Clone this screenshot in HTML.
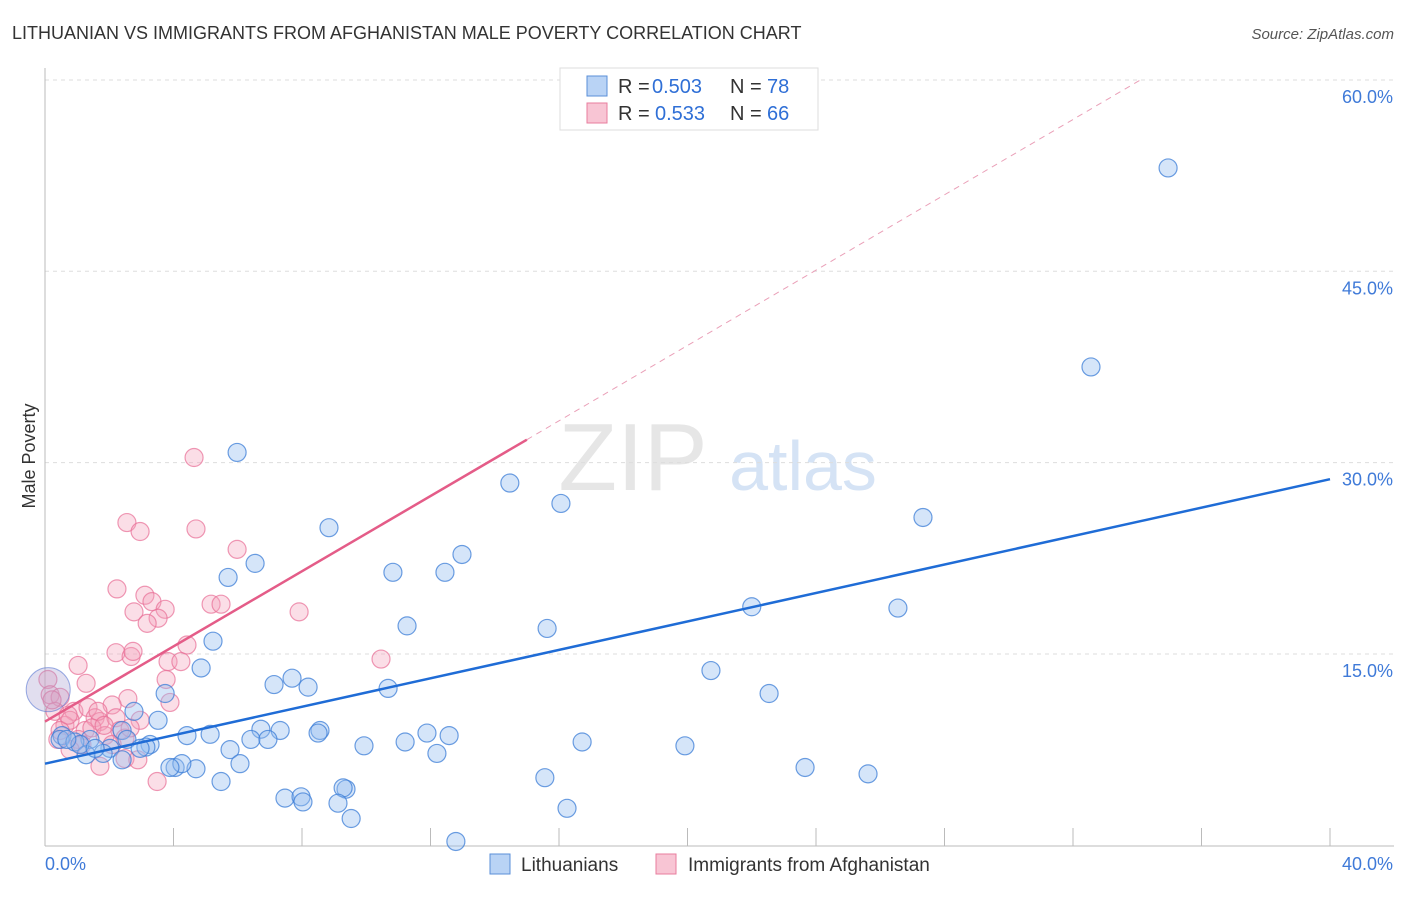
<!DOCTYPE html>
<html><head><meta charset="utf-8"><style>
body{margin:0;background:#fff;font-family:"Liberation Sans",sans-serif}
svg text{font-family:"Liberation Sans",sans-serif}
</style></head><body>
<svg id="c" width="1406" height="892">
<text x="12" y="39" font-size="18" fill="#333">LITHUANIAN VS IMMIGRANTS FROM AFGHANISTAN MALE POVERTY CORRELATION CHART</text>
<text x="1394" y="39" font-size="15" fill="#555" font-style="italic" text-anchor="end">Source: ZipAtlas.com</text>
<text x="35" y="456" font-size="18" fill="#333" transform="rotate(-90 35 456)" text-anchor="middle">Male Poverty</text>
<g><text x="633" y="490" font-size="96" font-family="Liberation Serif" fill="#e6e6e6" text-anchor="middle">ZIP</text><text x="803" y="490" font-size="70" fill="#d5e3f5" text-anchor="middle">atlas</text></g>
<g id="grid"></g><g id="pts"></g><g id="lines"></g>
<g>
<rect x="560" y="68" width="258" height="62" fill="#fff" stroke="#ddd"/>
<rect x="587" y="76" width="20" height="20" fill="#b9d3f5" stroke="#5a8fd8"/>
<rect x="587" y="103" width="20" height="20" fill="#f8c5d4" stroke="#e87d9e"/>
<text x="618" y="93" font-size="20" fill="#333">R =</text><text x="652" y="93" font-size="20" fill="#2f6fd6">0.503</text>
<text x="730" y="93" font-size="20" fill="#333">N =</text><text x="767" y="93" font-size="20" fill="#2f6fd6">78</text>
<text x="618" y="120" font-size="20" fill="#333">R =</text><text x="655" y="120" font-size="20" fill="#2f6fd6">0.533</text>
<text x="730" y="120" font-size="20" fill="#333">N =</text><text x="767" y="120" font-size="20" fill="#2f6fd6">66</text>
</g>
<g>
<rect x="490" y="854" width="20" height="20" fill="#b9d3f5" stroke="#5a8fd8"/>
<text x="521" y="871" font-size="19" fill="#333">Lithuanians</text>
<rect x="656" y="854" width="20" height="20" fill="#f8c5d4" stroke="#e87d9e"/>
<text x="688" y="871" font-size="19" fill="#333">Immigrants from Afghanistan</text>
</g>
</svg>
<script>
const yTicks=[15,30,45,60];
const yTickLabels=["15.0%","30.0%","45.0%","60.0%"];
const xTicks=[0,4,8,12,16,20,24,28,32,36,40];
const blueX=[34.96,32.56,5.98,14.47,16.06,27.33,8.84,12.98,6.54,10.83,12.45,5.70,22.0,26.55,11.27,15.63,5.23,4.86,20.73,7.69,7.13,8.19,10.68,3.74,22.54,2.77,3.52,6.72,7.32,8.56,8.5,2.4,5.14,4.42,11.89,12.58,0.53,1.40,2.55,3.27,3.14,6.41,6.94,11.21,9.93,16.72,19.92,2.02,0.47,0.93,5.76,12.2,1.28,1.81,2.4,6.07,4.70,4.05,4.26,3.89,15.56,23.66,25.62,5.48,9.37,9.28,7.47,7.97,8.03,9.12,16.25,9.53,12.79,2.96,1.09,0.68,1.56];
const blueY=[53.1,37.5,30.8,28.4,26.8,25.7,24.9,22.8,22.1,21.4,21.4,21.0,18.7,18.6,17.2,17.0,16.0,13.9,13.7,13.1,12.6,12.4,12.3,11.9,11.9,10.5,9.8,9.1,9.0,9.0,8.8,9.0,8.7,8.6,8.8,8.6,8.6,8.3,8.3,7.9,7.7,8.3,8.3,8.1,7.8,8.1,7.8,7.6,8.3,8.1,7.5,7.2,7.1,7.2,6.7,6.4,6.0,6.1,6.4,6.1,5.3,6.1,5.6,5.0,4.4,4.5,3.7,3.8,3.4,3.3,2.9,2.1,0.3,7.6,7.9,8.3,7.6];
const pinkX=[4.64,2.55,2.96,4.70,5.98,2.24,3.11,2.77,3.33,3.74,3.52,3.18,5.17,5.48,7.91,4.42,2.21,2.68,2.74,3.83,4.23,10.46,1.03,3.77,1.28,2.58,3.89,0.09,0.16,0.47,0.31,2.09,0.90,1.34,1.56,1.71,2.21,2.33,2.96,1.25,0.62,0.40,1.03,1.46,1.87,2.49,1.71,2.49,2.89,3.49,0.22,0.78,0.47,2.09,1.15,0.78,0.72,1.65,1.84,2.65];
const pinkY=[30.4,25.3,24.6,24.8,23.2,20.1,19.6,18.3,19.1,18.5,17.8,17.4,18.9,18.9,18.3,15.7,15.1,14.8,15.2,14.4,14.4,14.6,14.1,13.0,12.7,11.5,11.2,13.0,11.8,11.6,10.5,11.0,10.5,10.8,10.0,9.7,10.0,9.0,9.8,9.0,9.4,8.3,8.3,9.2,8.6,8.4,6.2,6.8,6.7,5.0,11.4,9.8,9.0,7.9,7.9,7.5,10.2,10.5,9.4,9.2];
const bigPoint=[0.1,12.2];
const blueTrend=[[0,6.4],[40,28.7]];
const pinkTrend=[[0,9.7],[15.0,31.8]];
const pinkDash=[[15.0,31.8],[34.1,60]];
const X=v=>45+v*32.125, Y=v=>845.3-v*12.756;
const NS="http://www.w3.org/2000/svg";
function mk(t,a,p){const e=document.createElementNS(NS,t);for(const k in a)e.setAttribute(k,a[k]);p.appendChild(e);return e;}
const g=document.getElementById('grid');
yTicks.forEach((t,i)=>{
 const l=mk('line',{x1:45,x2:1394,y1:Y(t),y2:Y(t),stroke:'#ddd','stroke-dasharray':'4,4'},g);
 
 
 const tx=mk('text',{x:1393,y:Y(t)+23,'font-size':18,fill:'#3f7ad8','text-anchor':'end'},g);
 tx.textContent=yTickLabels[i];
 
 
});
const topLine=mk('line',{x1:45,x2:1394,y1:80,y2:80,stroke:'#ddd','stroke-dasharray':'4,4'},g);


const ya=mk('line',{x1:45,x2:45,y1:68,y2:846,stroke:'#bbb'},g);


const xa=mk('line',{x1:45,x2:1394,y1:846,y2:846,stroke:'#bbb'},g);


xTicks.forEach(t=>{
 const l=mk('line',{x1:X(t),x2:X(t),y1:828,y2:846,stroke:'#bbb'},g);
 
 
});
const x0=mk('text',{x:45,y:870,'font-size':18,fill:'#3f7ad8'},g);x0.textContent='0.0%';


const x1=mk('text',{x:1393,y:870,'font-size':18,fill:'#3f7ad8','text-anchor':'end'},g);x1.textContent='40.0%';


const p=document.getElementById('pts');
pinkX.forEach((v,i)=>{
 const c=mk('circle',{cx:X(v),cy:Y(pinkY[i]),r:9,fill:'rgba(244,160,185,0.35)',stroke:'rgba(232,110,150,0.7)','stroke-width':1.2},p);
 
 
});
blueX.forEach((v,i)=>{
 const c=mk('circle',{cx:X(v),cy:Y(blueY[i]),r:9,fill:'rgba(150,190,240,0.4)',stroke:'rgba(60,125,215,0.75)','stroke-width':1.2},p);
 
 
});
const bp=mk('circle',{cx:X(bigPoint[0]),cy:Y(bigPoint[1]),r:22,fill:'rgba(170,160,210,0.35)',stroke:'rgba(90,120,210,0.6)'},p);


const L=document.getElementById('lines');
function ln(a,st,w,d){const e=mk('line',{x1:X(a[0][0]),y1:Y(a[0][1]),x2:X(a[1][0]),y2:Y(a[1][1]),stroke:st,'stroke-width':w},L);if(d)e.setAttribute('stroke-dasharray',d);return e;}
const bt=ln(blueTrend,'#1f6cd6',2.5);


const pt=ln(pinkTrend,'#e45c88',2.5);


const pd=ln(pinkDash,'#eaa0b8',1,'6,5');


</script>
</body></html>
